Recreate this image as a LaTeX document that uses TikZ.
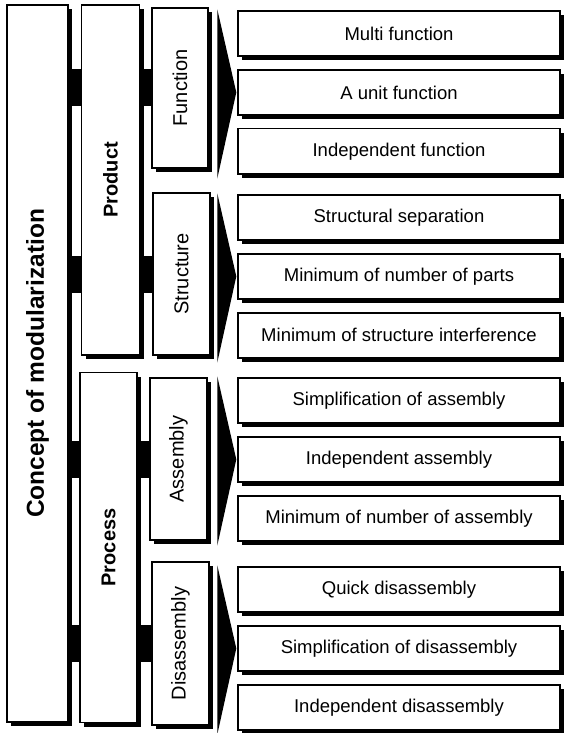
\documentclass[tikz,border=0pt]{standalone}
\usepackage{fontspec}
\setmainfont{Liberation Sans}
\usetikzlibrary{calc,positioning,shadows,backgrounds}

\tikzset{
	box/.style={draw,line width=1.4pt,fill=white,inner sep=0pt,
		drop shadow={shadow xshift=4pt,shadow yshift=-4pt,fill=black,opacity=1}},
	item/.style={box,minimum width=322pt,minimum height=45pt,font=\fontsize{18.5}{20}\selectfont},
	aspect/.style={box,minimum width=57pt,minimum height=162pt,font=\fontsize{20}{22}\selectfont},
	side/.style={box,minimum width=58pt,minimum height=350pt,font=\bfseries\fontsize{20}{22}\selectfont},
	bar/.style={line width=37pt},
	wedge/.style={fill=black}
}

\begin{document}
\begin{tikzpicture}[x=1pt,y=1pt]
		\useasboundingbox (0,0) rectangle (563,-733);
		\begin{scope}
			% left column
			\node(main) [box,minimum width=61pt,minimum height=717pt,font=\bfseries\fontsize{24.5}{28}\selectfont] at (37.5,-363.5) {\rotatebox{90}{Concept of modularization}};
			\node(product) [side] at (110.5,-180) {\rotatebox{90}{Product}};
			\node(process) [side,minimum width=57pt] at (108.5,-547.5) {\rotatebox{90}{Process}};
			% aspects
			\node(function)    [aspect,minimum width=56pt,minimum height=160pt] at (180,-88) {\rotatebox{90}{Function}};
			\node(structure)   [aspect] at (181.5,-274) {\rotatebox{90}{Structure}};
			\node(assembly)    [aspect] at (178.5,-459) {\rotatebox{90}{Assembly}};
			\node(disassembly) [aspect,minimum height=163pt] at (180.5,-643.5) {\rotatebox{90}{Disassembly}};
			% items
			\node(f1) [item] at (399,-33.5) {Multi function};
			\node(f2) [item,below=12.5 of f1] {A unit function};
			\node(f3) [item,below=12.5 of f2] {Independent function};
			\node(s1) [item] at (399,-217.5) {Structural separation};
			\node(s2) [item,below=12.5 of s1] {Minimum of number of parts};
			\node(s3) [item,below=12.5 of s2] {Minimum of structure interference};
			\node(a1) [item] at (399,-400.5) {Simplification of assembly};
			\node(a2) [item,below=12.5 of a1] {Independent assembly};
			\node(a3) [item,below=12.5 of a2] {Minimum of number of assembly};
			\node(d1) [item] at (399,-589.5) {Quick disassembly};
			\node(d2) [item,below=12.5 of d1] {Simplification of disassembly};
			\node(d3) [item,below=12.5 of d2] {Independent disassembly};
			% bars behind the boxes
			\begin{scope}[on background layer]
				\draw[bar] (main.east |- function.west) -- (function.west);
				\draw[bar] (main.east |- structure.west) -- (structure.west);
				\draw[bar] (main.east |- assembly.west) -- (assembly.west);
				\draw[bar] (main.east |- disassembly.west) -- (disassembly.west);
			\end{scope}
			% wedges
			\foreach \t/\m/\b in {f1/f2/f3,s1/s2/s3,a1/a2/a3,d1/d2/d3}
				\fill[wedge] ($(\t.north west)+(-20,1)$) -- ($(\m.west)+(-1,0)$) -- ($(\b.south west)+(-20,-4)$) -- cycle;
		\end{scope}
	\end{tikzpicture}
\end{document}
